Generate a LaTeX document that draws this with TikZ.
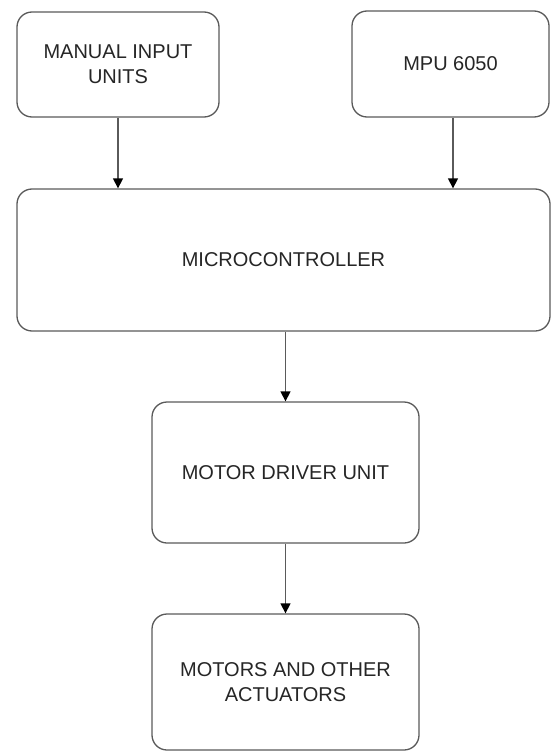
\documentclass[tikz,border=0pt]{standalone}
\usepackage{fontspec}
\setmainfont{Liberation Sans}
\usetikzlibrary{arrows.meta}
\definecolor{edgegrey}{HTML}{5A5A5A}
\definecolor{textgrey}{HTML}{262626}
\tikzset{
  block/.style = {draw = edgegrey, line width = 1.3pt, rounded corners = 15pt, fill = white,
                  align = center, text = textgrey, inner sep = 0pt,
                  font = \fontsize{20}{25}\selectfont},
  flow/.style = {draw = edgegrey, line width = 1.3pt, -{Triangle[width = 10pt, length = 10pt, color = black]}}
}
\begin{document}
\begin{tikzpicture}[x = 1pt, y = -1pt]
\useasboundingbox (0,0) rectangle (551,752);
\node[block, minimum width = 202pt, minimum height = 105pt] (manual) at (118,64.5) {MANUAL INPUT\\UNITS};
\node[block, minimum width = 197pt, minimum height = 106pt] (mpu) at (450.5,64) {MPU 6050};
\node[block, minimum width = 533pt, minimum height = 142pt] (mcu) at (283.5,260) {MICROCONTROLLER};
\node[block, minimum width = 267pt, minimum height = 141pt] (driver) at (285.5,472.5) {MOTOR DRIVER UNIT};
\node[block, minimum width = 267pt, minimum height = 136pt] (motors) at (285.5,682) {MOTORS AND OTHER\\ACTUATORS};
\draw[flow] (manual.south) -- (manual.south |- mcu.north);
\draw[flow] ([xshift = 2.5pt]mpu.south) -- ([xshift = 2.5pt]mpu.south |- mcu.north);
\draw[flow] (mcu.south -| driver.north) -- (driver.north);
\draw[flow] (driver.south) -- (motors.north);
\end{tikzpicture}
\end{document}
